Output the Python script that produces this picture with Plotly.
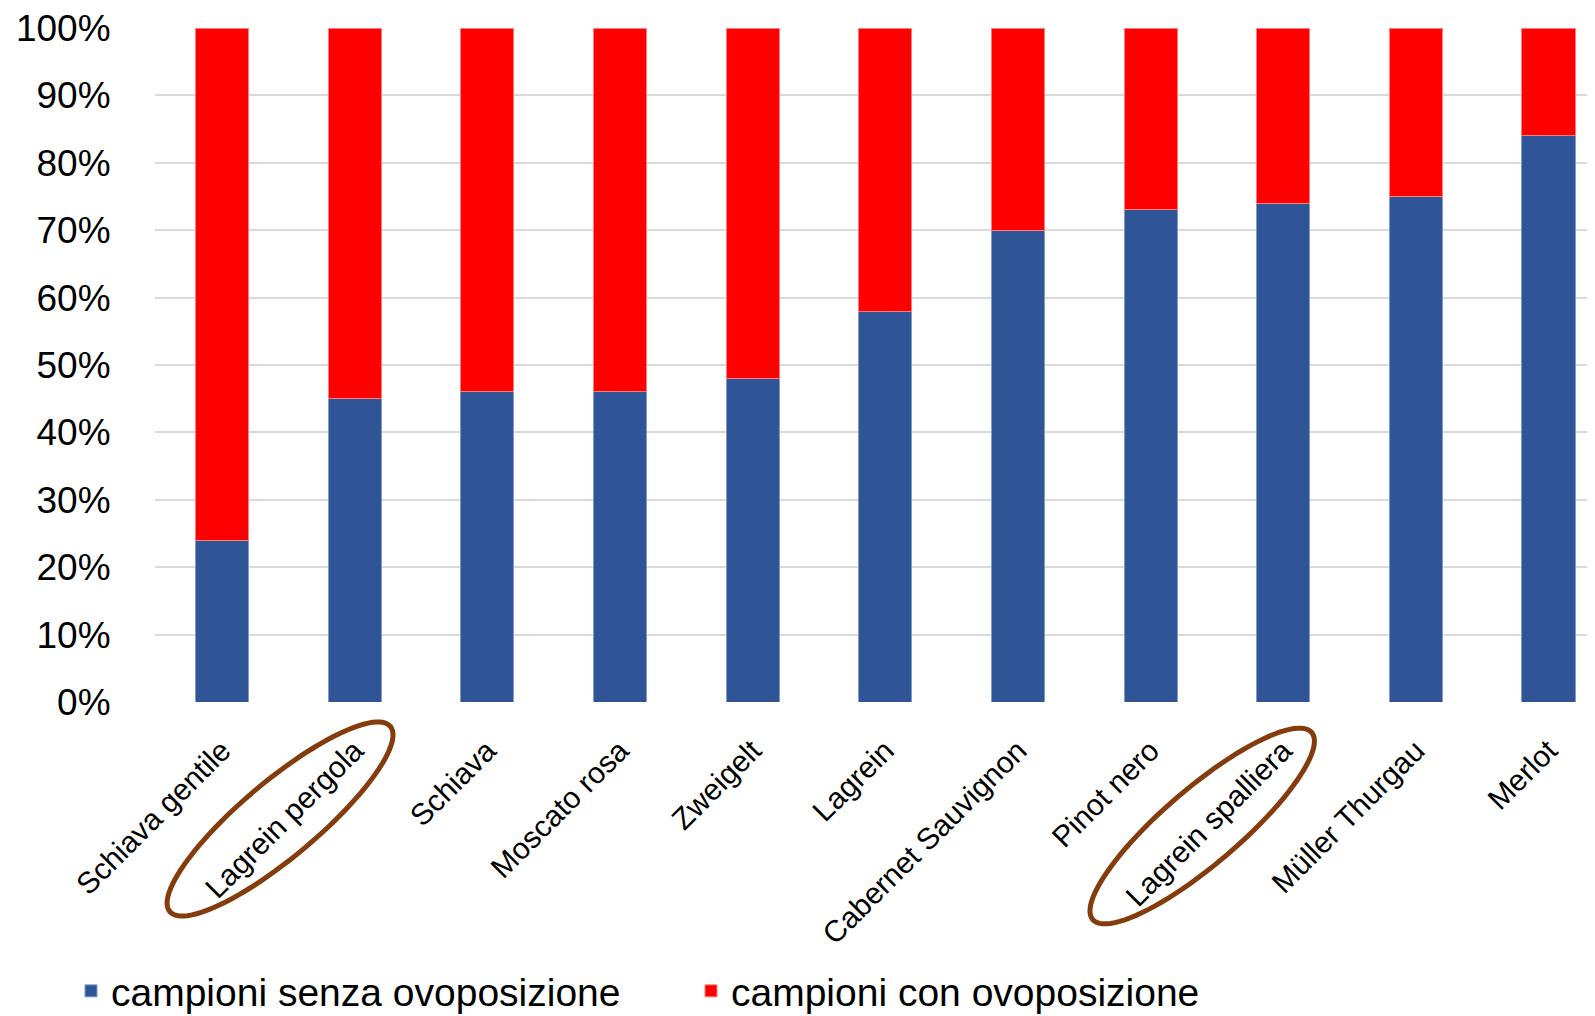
import math
import plotly.graph_objects as go

categories = ["Schiava gentile", "Lagrein pergola", "Schiava", "Moscato rosa", "Zweigelt",
              "Lagrein", "Cabernet Sauvignon", "Pinot nero", "Lagrein spalliera",
              "Müller Thurgau", "Merlot"]
senza = [24, 45, 46, 46, 48, 58, 70, 73, 74, 75, 84]
con = [100 - v for v in senza]
series_names = ["campioni senza ovoposizione", "campioni con ovoposizione"]
ytick_vals = [0, 10, 20, 30, 40, 50, 60, 70, 80, 90, 100]
ytick_text = [f"{v}%" for v in ytick_vals]

FONT = "Liberation Sans, Arial, sans-serif"
OFF = 8  # page body margin
W, H = 1595 - OFF, 1016 - OFF
PLOT_L, PLOT_R, PLOT_T, PLOT_B = 155, 1595, 28, 702  # in window pixels
ML, MR, MT, MB = PLOT_L - OFF, 1595 - PLOT_R, PLOT_T - OFF, 1016 - PLOT_B
CAT_STEP = 132.65
FIRST_C = 222

fig = go.Figure()
fig.add_trace(go.Bar(x=list(range(len(categories))), y=senza, name=series_names[0],
                     marker=dict(color="#2F5597", line=dict(color="#7F9BCB", width=1)),
                     width=0.4))
fig.add_trace(go.Bar(x=list(range(len(categories))), y=con, name=series_names[1],
                     marker=dict(color="#FF0000", line=dict(color="#FF7F7F", width=1)),
                     width=0.4))

x_lo = (PLOT_L - FIRST_C) / CAT_STEP
x_hi = (PLOT_R - FIRST_C) / CAT_STEP


def to_paper(px, py):
    return (px - PLOT_L) / (PLOT_R - PLOT_L), (PLOT_B - py) / (PLOT_B - PLOT_T)


# highlight ellipses around two category labels: (category index, dx, cy, a, b, angle)
shapes = []
ellipses = [(1, -74.6, 819, 144, 38, 40), (8, -81, 826, 144, 38, 40.5)]
for idx, dx, cy, a, b, ang in ellipses:
    cx = FIRST_C + idx * CAT_STEP + dx
    t = math.radians(ang)
    pts = []
    for k in range(97):
        th = 2 * math.pi * k / 96
        ex, ey = a * math.cos(th), b * math.sin(th)
        px = cx + ex * math.cos(t) + ey * math.sin(t)
        py = cy - ex * math.sin(t) + ey * math.cos(t)
        pts.append(to_paper(px, py))
    path = "M" + " L".join(f"{x:.5f},{y:.5f}" for x, y in pts) + " Z"
    shapes.append(dict(type="path", xref="paper", yref="paper", path=path,
                       line=dict(color="#843C0C", width=5), fillcolor="rgba(0,0,0,0)"))

leg_x, _ = to_paper(91 - 20, 0)
_, leg_y = to_paper(0, 991)

fig.update_layout(
    width=W, height=H,
    margin=dict(l=ML, r=MR, t=MT, b=MB, autoexpand=False),
    barmode="stack",
    plot_bgcolor="white", paper_bgcolor="white",
    font=dict(family=FONT, color="black"),
    xaxis=dict(range=[x_lo, x_hi], tickmode="array", tickvals=list(range(len(categories))),
               ticktext=categories, tickangle=-45, tickfont=dict(size=30, family=FONT),
               showgrid=False, zeroline=False, showline=False,
               ticks="outside", ticklen=18, tickcolor="rgba(0,0,0,0)"),
    yaxis=dict(range=[0, 100], tickmode="array", tickvals=ytick_vals, ticktext=ytick_text,
               tickfont=dict(size=37, family=FONT), showgrid=True, gridcolor="#D9D9D9",
               gridwidth=1.5, zeroline=False, showline=False, ticklabeloverflow="allow",
               ticks="outside", ticklen=36, tickcolor="rgba(0,0,0,0)"),
    legend=dict(orientation="h", x=leg_x, xanchor="left", y=leg_y, yanchor="middle",
                font=dict(size=39, family=FONT), entrywidth=575, traceorder="normal",
                bgcolor="rgba(0,0,0,0)"),
    shapes=shapes,
)
fig.write_html("out.html")
